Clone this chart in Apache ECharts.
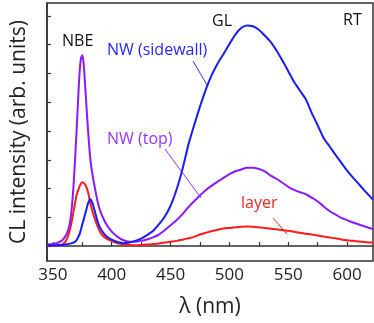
<!DOCTYPE html>
<html>
<head>
<meta charset="utf-8">
<script src="https://cdn.jsdelivr.net/npm/echarts@6/dist/echarts.min.js"></script>
<style>
html,body{margin:0;padding:0;background:#fff;}
#chart{width:374px;height:323px;}
</style>
</head>
<body>
<div id="chart"></div>
<script>
// Wavelength (nm)
const wavelengths = [345,350,353,356,358,360,362,364,366,368,370,372,373,374,375,376,377,378,380,382,384,386,388,390,393,396,400,405,410,415,420,425,430,435,440,445,450,455,460,465,470,475,480,485,490,495,500,505,510,515,520,525,530,535,540,545,550,555,560,565,570,575,580,585,590,595,600,605,610,615,620,622];
// NW (sidewall) - blue
const sidewall = [0.02,0.02,0.03,0.04,0.04,0.05,0.06,0.08,0.10,0.13,0.20,0.35,0.45,0.60,0.75,0.90,1.05,1.20,1.50,1.63,1.45,1.15,0.85,0.65,0.45,0.32,0.22,0.14,0.10,0.12,0.18,0.26,0.38,0.52,0.75,1.02,1.40,1.95,2.65,3.50,4.20,4.85,5.45,5.95,6.35,6.68,7.02,7.35,7.58,7.67,7.64,7.52,7.32,7.10,6.80,6.45,6.08,5.70,5.40,5.10,4.62,4.20,3.76,3.47,3.18,2.90,2.62,2.38,2.15,1.92,1.70,1.61];
// NW (top) - purple
const top_ = [0.05,0.07,0.10,0.15,0.20,0.30,0.45,0.70,1.30,2.40,3.90,5.55,6.20,6.55,6.63,6.40,5.85,5.20,3.95,2.95,2.40,1.95,1.55,1.25,0.95,0.72,0.50,0.32,0.20,0.15,0.15,0.18,0.23,0.30,0.40,0.55,0.72,0.90,1.10,1.35,1.56,1.76,1.95,2.10,2.24,2.37,2.50,2.60,2.66,2.72,2.72,2.68,2.60,2.45,2.34,2.20,2.06,1.95,1.87,1.80,1.68,1.55,1.38,1.22,1.10,0.98,0.90,0.82,0.75,0.68,0.62,0.58];
// layer - red
const layer = [0.00,0.00,0.01,0.03,0.06,0.12,0.25,0.50,0.85,1.30,1.75,2.00,2.10,2.18,2.22,2.20,2.16,2.10,1.85,1.45,1.15,0.90,0.68,0.50,0.33,0.25,0.17,0.10,0.06,0.04,0.03,0.04,0.05,0.07,0.09,0.12,0.15,0.18,0.22,0.27,0.32,0.40,0.46,0.52,0.57,0.61,0.63,0.65,0.67,0.68,0.67,0.65,0.63,0.60,0.58,0.55,0.53,0.50,0.46,0.43,0.40,0.37,0.33,0.30,0.27,0.23,0.20,0.18,0.16,0.14,0.12,0.12];

const xTickValues = [350,375,400,425,450,475,500,525,550,575,600];
const xLabelValues = [350,400,450,500,550,600];
const yTickValues = [0,1,2,3,4,5,6,7,8];

const FONT = 'Open Sans';
const zip = (xs, ys) => xs.map((x, i) => [x, ys[i]]);

const chart = echarts.init(document.getElementById('chart'), null, {renderer: 'canvas'});
const lineSeries = (name, data, color) => ({
  name, type: 'line', data: zip(wavelengths, data), showSymbol: false, smooth: 0.2,
  lineStyle: {color, width: 2}, itemStyle: {color}, z: 3
});

chart.setOption({
  animation: false,
  grid: {left: 47, right: 1, top: 3, bottom: 58, show: true, borderColor: '#333', borderWidth: 1.5, backgroundColor: 'transparent'},
  xAxis: {
    type: 'value', min: 345, max: 622,
    name: 'λ (nm)', nameLocation: 'middle', nameGap: 36,
    nameTextStyle: {fontFamily: FONT, fontSize: 21, color: '#222'},
    axisLine: {lineStyle: {color: '#333', width: 1.5}},
    axisTick: {inside: true, length: 4, customValues: xTickValues, lineStyle: {color: '#333', width: 1.2}},
    axisLabel: {customValues: xLabelValues, fontFamily: FONT, fontSize: 17, color: '#222', margin: 6},
    splitLine: {show: false}
  },
  yAxis: {
    type: 'value', min: -0.52, max: 8.45,
    name: 'CL intensity (arb. units)', nameLocation: 'middle', nameGap: 17, nameRotate: 90,
    nameTextStyle: {fontFamily: FONT, fontSize: 21, color: '#222'},
    axisLine: {lineStyle: {color: '#333', width: 1.5}},
    axisTick: {inside: true, length: 4, customValues: yTickValues, lineStyle: {color: '#333', width: 1.2}},
    axisLabel: {show: false},
    splitLine: {show: false}
  },
  series: [
    lineSeries('layer', layer, '#ff1a1a'),
    lineSeries('NW (top)', top_, '#8c1aff'),
    lineSeries('NW (sidewall)', sidewall, '#1a1aff')
  ],
  graphic: [
    {type: 'text', left: 62, top: 33, style: {text: 'NBE', font: '16px "Open Sans"', fill: '#111'}},
    {type: 'text', left: 212, top: 13, style: {text: 'GL', font: '16px "Open Sans"', fill: '#111'}},
    {type: 'text', left: 343, top: 12, style: {text: 'RT', font: '16px "Open Sans"', fill: '#111'}},
    {type: 'text', left: 107, top: 42, style: {text: 'NW (sidewall)', font: '16px "Open Sans"', fill: '#2626ff'}},
    {type: 'text', left: 107, top: 131, style: {text: 'NW (top)', font: '16px "Open Sans"', fill: '#9933ff'}},
    {type: 'text', left: 241, top: 195, style: {text: 'layer', font: '16px "Open Sans"', fill: '#ff2222'}},
    {type: 'line', shape: {x1: 193, y1: 61, x2: 207, y2: 85}, style: {stroke: '#3333ff', lineWidth: 1}},
    {type: 'line', shape: {x1: 165, y1: 149, x2: 201, y2: 198}, style: {stroke: '#9933ff', lineWidth: 1}},
    {type: 'line', shape: {x1: 273, y1: 218, x2: 287, y2: 234}, style: {stroke: '#ff2222', lineWidth: 1}}
  ]
});
</script>
</body>
</html>
